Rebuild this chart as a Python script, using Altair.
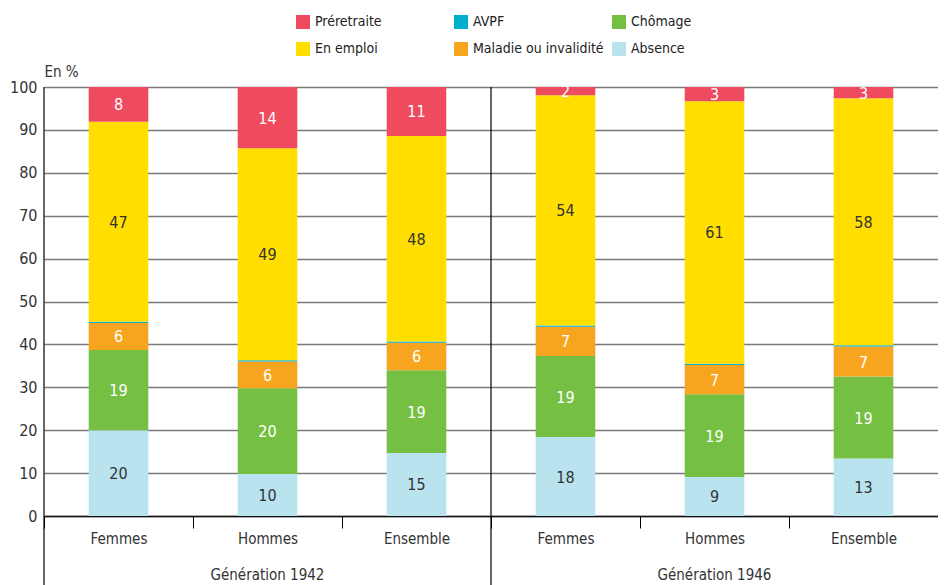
import altair as alt
import pandas as pd

generations = ["Génération 1942", "Génération 1946"]
gen_codes = ["1942", "1946"]
groups = ["Femmes", "Hommes", "Ensemble"]

# stacking order bottom -> top
statuses = ["Absence", "Chômage", "Maladie ou invalidité", "AVPF", "En emploi", "Préretraite"]
legend_order = ["Préretraite", "AVPF", "Chômage", "En emploi", "Maladie ou invalidité", "Absence"]
legend_colors = ["#EE4B5F", "#00AFCB", "#75BF43", "#FFDE00", "#F7A51E", "#B9E3EF"]

# values per bar: F42, H42, E42, F46, H46, E46
absence = [20.0, 9.8, 14.7, 18.4, 9.1, 13.4]
chomage = [18.7, 20.0, 19.3, 18.9, 19.3, 19.1]
maladie = [6.3, 6.2, 6.4, 6.8, 6.8, 7.0]
avpf = [0.3, 0.3, 0.3, 0.3, 0.3, 0.3]
emploi = [46.6, 49.4, 47.9, 53.7, 61.2, 57.6]
preretraite = [8.1, 14.3, 11.4, 1.9, 3.3, 2.6]

series = [absence, chomage, maladie, avpf, emploi, preretraite]
keys = [f"{g}|{grp}" for g in gen_codes for grp in groups]

rows = []
for si, (status, vals) in enumerate(zip(statuses, series)):
    for ki, key in enumerate(keys):
        rows.append({"key": key, "status": status, "order": si,
                     "value": vals[ki], "label": str(int(round(vals[ki])))})
df = pd.DataFrame(rows)

H = 429
W = 894
FONT = "DejaVu Sans Condensed"

xenc = alt.X("key:N", sort=keys,
             scale=alt.Scale(paddingInner=0, paddingOuter=0),
             axis=alt.Axis(title=None, labelExpr="split(datum.label, '|')[1]",
                           labelAngle=0, tickBand="extent", tickSize=12,
                           tickColor="#000", domainColor="#111", domainWidth=1.6,
                           labelFontSize=15, labelColor="#333", labelPadding=3,
                           grid=False))

base = alt.Chart(df).transform_stack(
    stack="value", groupby=["key"], as_=["v0", "v1"],
    sort=[alt.SortField("order", order="ascending")]
)

bars = base.mark_bar(width=alt.RelativeBandSize(0.4)).encode(
    x=xenc,
    y=alt.Y("v0:Q", scale=alt.Scale(domain=[0, 100], nice=False),
            axis=alt.Axis(values=list(range(0, 101, 10)), title="En %",
                          titleAngle=0, titleAlign="left", titleX=0, titleY=-8,
                          titleFontWeight="normal", titleFontSize=15, titleColor="#333",
                          labelFontSize=16, labelColor="#333", labelPadding=7,
                          domain=False, ticks=False, grid=True,
                          gridColor="#7a7a7a", gridWidth=1.5)),
    y2="v1:Q",
    color=alt.Color("status:N",
                    scale=alt.Scale(domain=legend_order, range=legend_colors),
                    legend=alt.Legend(title=None, orient="none", legendX=252, legendY=-72,
                                      columns=3, direction="horizontal",
                                      symbolType="square", symbolSize=196,
                                      symbolStrokeWidth=0, labelFontSize=14,
                                      labelColor="#222", gridAlign="all",
                                      columnPadding=8, rowPadding=13, labelOffset=5)),
)

labels = base.transform_filter(
    alt.datum.status != "AVPF"
).transform_calculate(
    mid="(datum.v0 + datum.v1) / 2"
).mark_text(fontSize=16, baseline="middle", align="center", dy=1).encode(
    x=alt.X("key:N", sort=keys),
    y=alt.Y("mid:Q"),
    text="label:N",
    color=alt.condition(
        alt.FieldOneOfPredicate(field="status", oneOf=["En emploi", "Absence"]),
        alt.value("#333"), alt.value("white")),
)

sep_df = pd.DataFrame({"key": [f"{g}|Femmes" for g in gen_codes]})
seps = alt.Chart(sep_df).mark_rule(color="#000", strokeWidth=1.2).encode(
    x=alt.X("key:N", sort=keys, bandPosition=0),
    y=alt.value(0),
    y2=alt.value(H + 80),
)

gen_df = pd.DataFrame({"key": [f"{g}|Hommes" for g in gen_codes], "gen": generations})
gen_text = alt.Chart(gen_df).mark_text(fontSize=15, color="#333", baseline="middle").encode(
    x=alt.X("key:N", sort=keys),
    y=alt.value(H + 59),
    text="gen:N",
)

chart = alt.layer(bars, labels, seps, gen_text).properties(
    width=W, height=H,
    autosize=alt.AutoSizeParams(type="none"),
    padding={"left": 36, "top": 79, "right": 0, "bottom": 69},
).configure(font=FONT).configure_view(stroke=None)

chart.save("out.html", embed_options={"renderer": "svg", "actions": False})
